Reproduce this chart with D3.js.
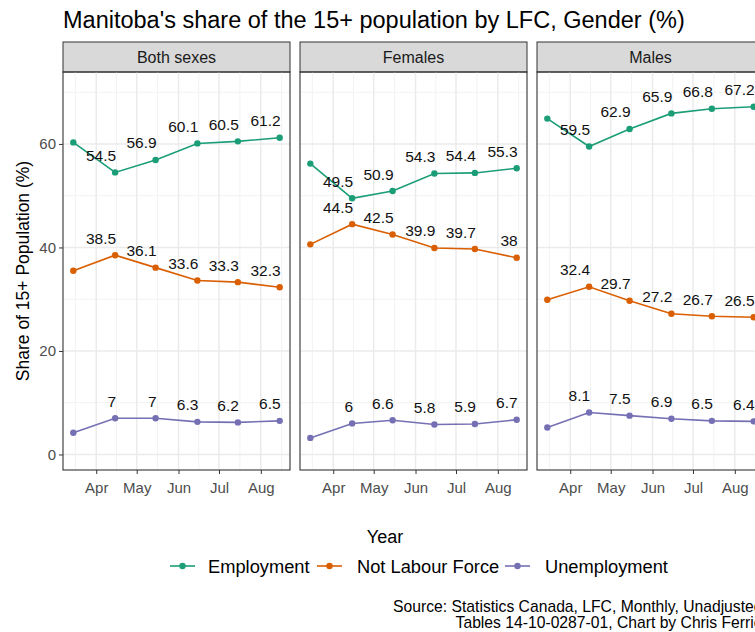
<!DOCTYPE html>
<html>
<head>
<meta charset="utf-8">
<script src="https://cdn.jsdelivr.net/npm/d3@7"></script>
<style>
  body { margin: 0; overflow: hidden; background: #fff; }
  text { font-family: "Liberation Sans", Arial, sans-serif; }
</style>
</head>
<body>
<div id="chart"></div>
<script>
// Data
const months = ["2020-03-15", "2020-04-15", "2020-05-15", "2020-06-15", "2020-07-15", "2020-08-15"];
const genders = ["Both sexes", "Females", "Males"];
const seriesNames = ["Employment", "Not Labour Force", "Unemployment"];

const bothEmployment = [60.3, 54.5, 56.9, 60.1, 60.5, 61.2];
const bothNotLabour = [35.5, 38.5, 36.1, 33.6, 33.3, 32.3];
const bothUnemployment = [4.2, 7, 7, 6.3, 6.2, 6.5];

const femalesEmployment = [56.2, 49.5, 50.9, 54.3, 54.4, 55.3];
const femalesNotLabour = [40.6, 44.5, 42.5, 39.9, 39.7, 38];
const femalesUnemployment = [3.2, 6, 6.6, 5.8, 5.9, 6.7];

const malesEmployment = [64.9, 59.5, 62.9, 65.9, 66.8, 67.2];
const malesNotLabour = [29.9, 32.4, 29.7, 27.2, 26.7, 26.5];
const malesUnemployment = [5.2, 8.1, 7.5, 6.9, 6.5, 6.4];

const yTicks = [0, 20, 40, 60];
const colors = ["#1B9E77", "#D95F02", "#7570B3"];

const panelValues = [
  [bothEmployment, bothNotLabour, bothUnemployment],
  [femalesEmployment, femalesNotLabour, femalesUnemployment],
  [malesEmployment, malesNotLabour, malesUnemployment]
];

// Layout
const width = 800, height = 632;
const panelLeft = 63, panelW = 227, panelGap = 10;
const stripTop = 42, stripH = 30;
const panelTop = stripTop + stripH, panelBottom = 470;

const svg = d3.select("#chart").append("svg")
  .attr("width", width)
  .attr("height", height);

const parse = d3.utcParse("%Y-%m-%d");
const dates = months.map(parse);

// ggplot-style 5% expansion
const t0 = dates[0].getTime(), t1 = dates[dates.length - 1].getTime();
const pad = (t1 - t0) * 0.05;
const x = d3.scaleUtc()
  .domain([new Date(t0 - pad), new Date(t1 + pad)])
  .range([0, panelW]);

const y = d3.scaleLinear()
  .domain([-3, 73.9])
  .range([panelBottom, panelTop]);

const majorX = d3.utcMonth.range(new Date(t0 - pad), new Date(t1 + pad));
const minorX = majorX.map(d => new Date((d.getTime() + d3.utcMonth.offset(d, -1).getTime()) / 2));
const lastMajor = majorX[majorX.length - 1];
minorX.push(new Date((lastMajor.getTime() + d3.utcMonth.offset(lastMajor, 1).getTime()) / 2));
const minorY = [10, 30, 50, 70];

// Title
svg.append("text")
  .attr("x", panelLeft)
  .attr("y", 28)
  .style("font-size", "23.5px")
  .style("fill", "#000")
  .text("Manitoba's share of the 15+ population by LFC, Gender (%)");

genders.forEach((g, pi) => {
  const px = panelLeft + pi * (panelW + panelGap);
  const p = svg.append("g").attr("transform", `translate(${px},0)`);

  // strip
  p.append("rect")
    .attr("x", 0).attr("y", stripTop)
    .attr("width", panelW).attr("height", stripH)
    .attr("fill", "#d9d9d9")
    .attr("stroke", "#333").attr("stroke-width", 1);
  p.append("text")
    .attr("x", panelW / 2).attr("y", stripTop + stripH / 2 + 5.5)
    .attr("text-anchor", "middle")
    .style("font-size", "16px")
    .style("fill", "#1a1a1a")
    .text(g);

  // grid
  const grid = p.append("g");
  grid.selectAll(".ymin").data(minorY).enter().append("line")
    .attr("x1", 0).attr("x2", panelW)
    .attr("y1", d => y(d)).attr("y2", d => y(d))
    .attr("stroke", "#f2f2f2").attr("stroke-width", 1);
  grid.selectAll(".xmin").data(minorX).enter().append("line")
    .attr("x1", d => x(d)).attr("x2", d => x(d))
    .attr("y1", panelTop).attr("y2", panelBottom)
    .attr("stroke", "#f2f2f2").attr("stroke-width", 1);
  grid.selectAll(".ymaj").data(yTicks).enter().append("line")
    .attr("x1", 0).attr("x2", panelW)
    .attr("y1", d => y(d)).attr("y2", d => y(d))
    .attr("stroke", "#ebebeb").attr("stroke-width", 1.5);
  grid.selectAll(".xmaj").data(majorX).enter().append("line")
    .attr("x1", d => x(d)).attr("x2", d => x(d))
    .attr("y1", panelTop).attr("y2", panelBottom)
    .attr("stroke", "#ebebeb").attr("stroke-width", 1.5);

  // series
  panelValues[pi].forEach((vals, si) => {
    const pts = vals.map((v, i) => ({ date: dates[i], value: v }));
    p.append("path")
      .datum(pts)
      .attr("fill", "none")
      .attr("stroke", colors[si])
      .attr("stroke-width", 1.6)
      .attr("d", d3.line().x(d => x(d.date)).y(d => y(d.value)));
    p.selectAll(null).data(pts).enter().append("circle")
      .attr("cx", d => x(d.date)).attr("cy", d => y(d.value))
      .attr("r", 3.2)
      .attr("fill", colors[si]);
    // labels on every point but the first, right-aligned above the point
    p.selectAll(null).data(pts.slice(1)).enter().append("text")
      .attr("x", d => x(d.date) + 1)
      .attr("y", d => y(d.value) - 11.5)
      .attr("text-anchor", "end")
      .style("font-size", "15.5px")
      .style("fill", "#111")
      .text(d => d.value);
  });

  // panel border
  p.append("rect")
    .attr("x", 0).attr("y", panelTop)
    .attr("width", panelW).attr("height", panelBottom - panelTop)
    .attr("fill", "none")
    .attr("stroke", "#333").attr("stroke-width", 1.1);

  // x axis
  const xAxis = p.append("g")
    .attr("transform", `translate(0,${panelBottom})`)
    .call(d3.axisBottom(x).tickValues(majorX).tickFormat(d3.utcFormat("%b")).tickSize(4).tickPadding(8));
  xAxis.select(".domain").remove();
  xAxis.selectAll("line").attr("stroke", "#333");
  xAxis.selectAll("text").style("font-size", "15px").style("fill", "#4d4d4d")
    .style("font-family", "'Liberation Sans', Arial, sans-serif");
});

// y axis (left panel only)
const yAxis = svg.append("g")
  .attr("transform", `translate(${panelLeft},0)`)
  .call(d3.axisLeft(y).tickValues(yTicks).tickSize(4).tickPadding(3));
yAxis.select(".domain").remove();
yAxis.selectAll("line").attr("stroke", "#333");
yAxis.selectAll("text").style("font-size", "15px").style("fill", "#4d4d4d")
  .style("font-family", "'Liberation Sans', Arial, sans-serif");

// axis titles
svg.append("text")
  .attr("transform", `translate(29,${(panelTop + panelBottom) / 2}) rotate(-90)`)
  .attr("text-anchor", "middle")
  .style("font-size", "17.5px")
  .text("Share of 15+ Population (%)");

const fullRight = 762.5;
svg.append("text")
  .attr("x", 385)
  .attr("y", 543)
  .attr("text-anchor", "middle")
  .style("font-size", "18px")
  .text("Year");

// legend
const legendX = [170, 317, 505];
const legend = svg.append("g").attr("transform", "translate(0,566)");
seriesNames.forEach((s, i) => {
  const g = legend.append("g").attr("transform", `translate(${legendX[i]},0)`);
  g.append("line").attr("x1", 0).attr("x2", 25).attr("y1", 0).attr("y2", 0)
    .attr("stroke", colors[i]).attr("stroke-width", 1.6);
  g.append("circle").attr("cx", 12.5).attr("cy", 0).attr("r", 3.2).attr("fill", colors[i]);
  g.append("text").attr("x", i === 0 ? 38 : 40).attr("y", 6.5)
    .style("font-size", "18.3px")
    .text(s);
});

// caption
const caption = svg.append("text")
  .attr("text-anchor", "end")
  .style("font-size", "15.7px")
  .style("fill", "#000");
caption.append("tspan").attr("x", fullRight).attr("y", 612)
  .text("Source: Statistics Canada, LFC, Monthly, Unadjusted");
caption.append("tspan").attr("x", fullRight).attr("y", 628)
  .text("Tables 14-10-0287-01, Chart by Chris Ferrie");
</script>
</body>
</html>
